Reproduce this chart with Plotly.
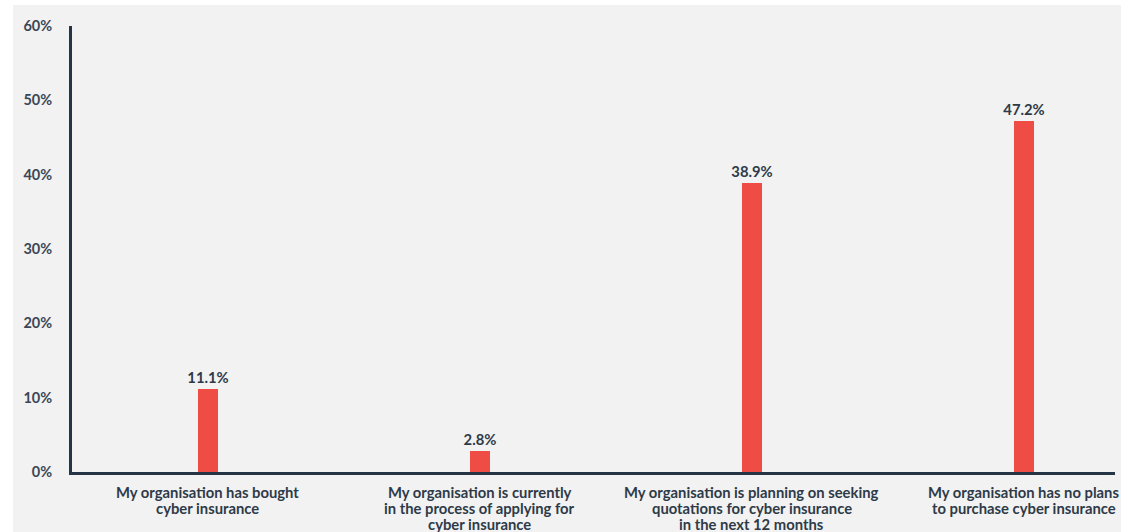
import plotly.graph_objects as go

categories = [
    "My organisation has bought<br>cyber insurance",
    "My organisation is currently<br>in the process of applying for<br>cyber insurance",
    "My organisation is planning on seeking<br>quotations for cyber insurance<br>in the next 12 months",
    "My organisation has no plans<br>to purchase cyber insurance",
]
shares = [11.1, 2.8, 38.9, 47.2]
y_ticks = [0, 10, 20, 30, 40, 50, 60]

W, H = 1121, 532
ML, MR, MT, MB = 72, 6, 26, 60
pw, ph = W - ML - MR, H - MT - MB

bar_color = "#f04c46"
axis_color = "#263545"
text_color = "#2e3a48"
panel = "#f2f2f2"
label_font = dict(family="Lato", size=14.8, color=text_color, weight="bold")

fig = go.Figure(
    go.Bar(
        x=list(range(len(categories))),
        y=shares,
        width=0.074,
        marker=dict(color=bar_color, line=dict(width=0)),
        texttemplate="%{y:.1f}%",
        textposition="outside",
        constraintext="none",
        textfont=dict(family="Lato", size=14.8, color=text_color, weight="bold"),
        cliponaxis=False,
    )
)

# light grey panel behind the chart, leaving a thin white frame top/left
fig.add_shape(
    type="rect", xref="paper", yref="paper", layer="below",
    x0=(13 - ML) / pw, x1=(W - ML) / pw + 0.01,
    y0=-(MB + 5) / ph, y1=(MT - 5) / ph + 1,
    fillcolor=panel, line=dict(width=0),
)

# category labels, one line per annotation for tight line spacing
for i, cat in enumerate(categories):
    for j, line in enumerate(cat.split("<br>")):
        fig.add_annotation(
            x=i, y=0, xref="x", yref="paper",
            text=line, showarrow=False,
            xanchor="center", yanchor="middle",
            yshift=-(20 + 16 * j),
            font=label_font,
        )

fig.update_layout(
    width=W, height=H,
    margin=dict(l=ML, r=MR, t=MT, b=MB, autoexpand=False),
    paper_bgcolor="white",
    plot_bgcolor="rgba(0,0,0,0)",
    showlegend=False,
    bargap=0,
    font=dict(family="Lato", color=text_color),
)
fig.update_xaxes(
    range=[-0.5, 3.335],
    tickmode="array",
    tickvals=list(range(len(categories))),
    ticktext=[""] * len(categories),
    automargin=False,
    showgrid=False,
    zeroline=False,
    showline=True,
    linecolor=axis_color,
    linewidth=3,
    ticks="",
)
fig.update_yaxes(
    range=[0, 60],
    tickvals=y_ticks,
    ticktext=[f"{v}%" for v in y_ticks],
    automargin=False,
    showgrid=False,
    zeroline=False,
    showline=True,
    linecolor=axis_color,
    linewidth=3,
    ticks="",
    ticklabelstandoff=14,
    tickfont=dict(family="Lato", size=14.5, color="#3b4756", weight="bold"),
)

fig.write_html("out.html")
